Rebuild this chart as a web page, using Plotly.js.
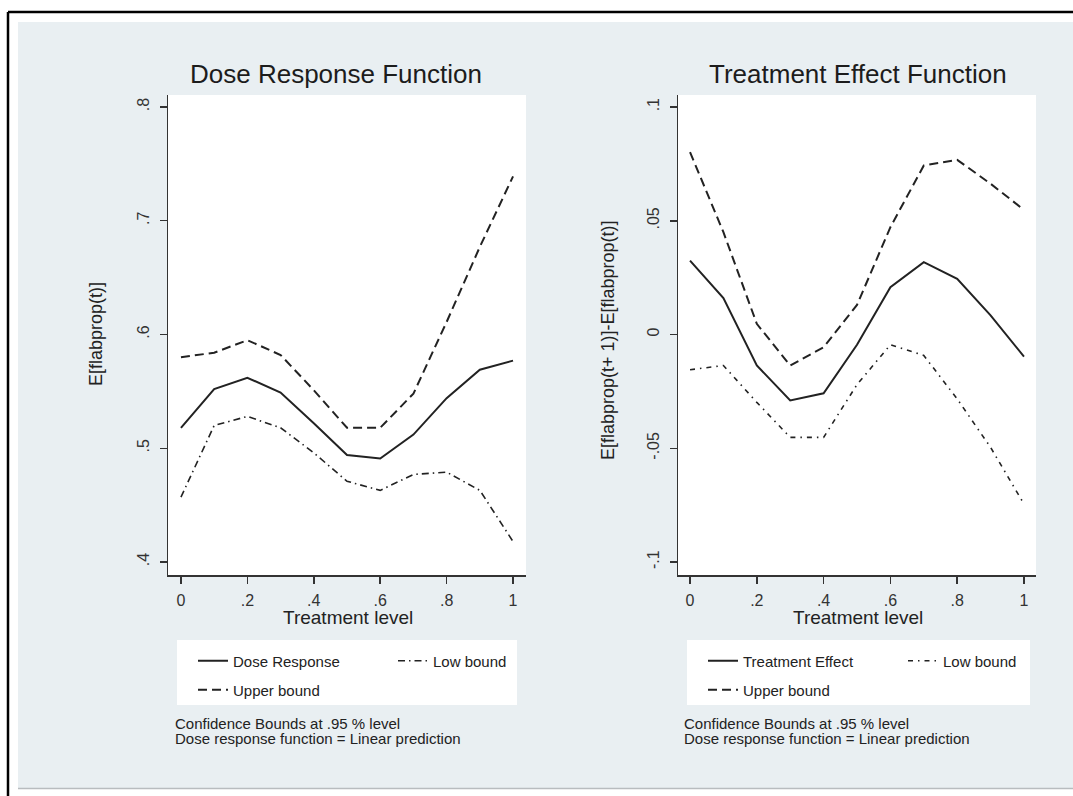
<!DOCTYPE html>
<html>
<head>
<meta charset="utf-8">
<script src="https://cdn.plot.ly/plotly-3.0.1.min.js"></script>
<style>html,body{margin:0;padding:0;background:#fff;}#chart{width:1073px;height:796px;}</style>
</head>
<body>
<div id="chart"></div>
<script>
// ---- data ----
const treatmentLevel = [0, 0.1, 0.2, 0.3, 0.4, 0.5, 0.6, 0.7, 0.8, 0.9, 1.0];

const doseResponse = [0.518, 0.552, 0.562, 0.549, 0.522, 0.494, 0.491, 0.512, 0.544, 0.569, 0.577];
const doseUpper    = [0.580, 0.584, 0.595, 0.582, 0.551, 0.518, 0.518, 0.548, 0.611, 0.677, 0.739];
const doseLow      = [0.457, 0.520, 0.528, 0.518, 0.496, 0.471, 0.463, 0.477, 0.479, 0.463, 0.418];

const treatEffect  = [0.0325, 0.0160, -0.0136, -0.0290, -0.0258, -0.0045, 0.0208, 0.0318, 0.0245, 0.0084, -0.0097];
const treatUpper   = [0.0802, 0.0450, 0.0047, -0.0136, -0.0056, 0.0130, 0.0472, 0.0743, 0.0768, 0.0663, 0.0548];
const treatLow     = [-0.0155, -0.0136, -0.0298, -0.0452, -0.0452, -0.0220, -0.0045, -0.0092, -0.0283, -0.0496, -0.0745];

const xTickVals = [0, 0.2, 0.4, 0.6, 0.8, 1];
const xTickText = ["0", ".2", ".4", ".6", ".8", "1"];
const yLeftTickVals = [0.4, 0.5, 0.6, 0.7, 0.8];
const yLeftTickText = [".4", ".5", ".6", ".7", ".8"];
const yRightTickVals = [-0.1, -0.05, 0, 0.05, 0.1];
const yRightTickText = ["-.1", "-.05", "0", ".05", ".1"];

const leftTitle = "Dose Response Function";
const rightTitle = "Treatment Effect Function";
const xTitle = "Treatment level";
const yLeftTitle = "E[flabprop(t)]";
const yRightTitle = "E[flabprop(t+ 1)]-E[flabprop(t)]";
const noteLine1 = "Confidence Bounds at .95 % level";
const noteLine2 = "Dose response function = Linear prediction";

// ---- layout helpers (pixel -> paper) ----
const W = 1073, H = 796;
const px = v => v / W;
const py = v => 1 - v / H;
const FONT = "Liberation Sans, Arial, sans-serif";
const INK = "#222";

const solid = {color: INK, width: 2};
const dashed = {color: INK, width: 2, dash: "9px,5px"};
const dashdotL = {color: INK, width: 1.6, dash: "7px,4px,1.5px,4px"};
const dashdotR = {color: INK, width: 1.6, dash: "5px,5px,1.5px,5px"};

const traces = [
  {x: treatmentLevel, y: doseResponse, name: "Dose Response", mode: "lines", line: solid, xaxis: "x", yaxis: "y", legend: "legend"},
  {x: treatmentLevel, y: doseLow, name: "Low bound", mode: "lines", line: dashdotL, xaxis: "x", yaxis: "y", legend: "legend2"},
  {x: treatmentLevel, y: doseUpper, name: "Upper bound", mode: "lines", line: dashed, xaxis: "x", yaxis: "y", legend: "legend3"},
  {x: treatmentLevel, y: treatEffect, name: "Treatment Effect", mode: "lines", line: solid, xaxis: "x2", yaxis: "y2", legend: "legend4"},
  {x: treatmentLevel, y: treatLow, name: "Low bound", mode: "lines", line: dashdotR, xaxis: "x2", yaxis: "y2", legend: "legend5"},
  {x: treatmentLevel, y: treatUpper, name: "Upper bound", mode: "lines", line: dashed, xaxis: "x2", yaxis: "y2", legend: "legend6"}
];

const axisCommon = {
  showgrid: false, zeroline: false, showline: true, linecolor: "#333", linewidth: 1.5,
  ticks: "outside", ticklen: 7, tickwidth: 1.5, tickcolor: "#333",
  tickfont: {family: FONT, size: 16, color: "#333"}, fixedrange: true
};

function legendAt(xp, yp) {
  return {x: px(xp), y: py(yp), xanchor: "left", yanchor: "middle", bgcolor: "rgba(0,0,0,0)",
          borderwidth: 0, font: {family: FONT, size: 15, color: INK}};
}

const layout = {
  width: W, height: H,
  margin: {l: 0, r: 0, t: 0, b: 0},
  paper_bgcolor: "#e9eff2",
  plot_bgcolor: "#ffffff",
  font: {family: FONT, color: INK},
  xaxis: Object.assign({}, axisCommon, {domain: [px(168), px(526)], range: [-0.039, 1.039], anchor: "y",
          tickvals: xTickVals, ticktext: xTickText, ticklabelstandoff: 3}),
  yaxis: Object.assign({}, axisCommon, {domain: [py(575), py(95)], range: [0.3886, 0.8105], anchor: "x",
          tickvals: yLeftTickVals, ticktext: yLeftTickText, tickangle: -90, ticklabelstandoff: 4}),
  xaxis2: Object.assign({}, axisCommon, {domain: [px(678), px(1036)], range: [-0.036, 1.036], anchor: "y2",
          tickvals: xTickVals, ticktext: xTickText, ticklabelstandoff: 3}),
  yaxis2: Object.assign({}, axisCommon, {domain: [py(575), py(95)], range: [-0.1057, 0.1053], anchor: "x2",
          tickvals: yRightTickVals, ticktext: yRightTickText, tickangle: -90, ticklabelstandoff: 4}),
  showlegend: true,
  legend: legendAt(193, 661),
  legend2: legendAt(393, 661),
  legend3: legendAt(193, 690),
  legend4: legendAt(703, 661),
  legend5: legendAt(903, 661),
  legend6: legendAt(703, 690),
  shapes: [
    // white frame strips around panel
    {type: "rect", xref: "paper", yref: "paper", x0: 0, x1: 1, y0: py(22), y1: 1, fillcolor: "#ffffff", line: {width: 0}, layer: "below"},
    {type: "rect", xref: "paper", yref: "paper", x0: 0, x1: px(18), y0: 0, y1: 1, fillcolor: "#ffffff", line: {width: 0}, layer: "below"},
    {type: "rect", xref: "paper", yref: "paper", x0: 0, x1: 1, y0: 0, y1: py(789), fillcolor: "#ffffff", line: {width: 0}, layer: "below"},
    {type: "line", xref: "paper", yref: "paper", x0: px(18), x1: 1, y0: py(788.5), y1: py(788.5), line: {color: "#b8bcbf", width: 1.5}, layer: "below"},
    // black outer border
    {type: "line", xref: "paper", yref: "paper", x0: px(8), x1: 1, y0: py(12), y1: py(12), line: {color: "#000", width: 2.5}, layer: "below"},
    {type: "line", xref: "paper", yref: "paper", x0: px(8), x1: px(8), y0: py(12), y1: 0, line: {color: "#000", width: 2.5}, layer: "below"},
    // legend boxes
    {type: "rect", xref: "paper", yref: "paper", x0: px(177), x1: px(517), y0: py(705), y1: py(640), fillcolor: "#ffffff", line: {width: 0}, layer: "below"},
    {type: "rect", xref: "paper", yref: "paper", x0: px(687), x1: px(1030), y0: py(705), y1: py(640), fillcolor: "#ffffff", line: {width: 0}, layer: "below"}
  ],
  annotations: [
    {text: leftTitle, x: px(336), y: py(74), xref: "paper", yref: "paper", xanchor: "center", yanchor: "middle", showarrow: false, font: {family: FONT, size: 26, color: "#1c1c1c"}},
    {text: rightTitle, x: px(858), y: py(74), xref: "paper", yref: "paper", xanchor: "center", yanchor: "middle", showarrow: false, font: {family: FONT, size: 26, color: "#1c1c1c"}},
    {text: xTitle, x: px(348), y: py(617), xref: "paper", yref: "paper", xanchor: "center", yanchor: "middle", showarrow: false, font: {family: FONT, size: 19, color: INK}},
    {text: xTitle, x: px(858), y: py(617), xref: "paper", yref: "paper", xanchor: "center", yanchor: "middle", showarrow: false, font: {family: FONT, size: 19, color: INK}},
    {text: yLeftTitle, x: px(96), y: py(334), xref: "paper", yref: "paper", xanchor: "center", yanchor: "middle", textangle: -90, showarrow: false, font: {family: FONT, size: 18, color: INK}},
    {text: yRightTitle, x: px(608), y: py(340), xref: "paper", yref: "paper", xanchor: "center", yanchor: "middle", textangle: -90, showarrow: false, font: {family: FONT, size: 18, color: INK}},
    {text: noteLine1, x: px(173), y: py(723), xref: "paper", yref: "paper", xanchor: "left", yanchor: "middle", showarrow: false, font: {family: FONT, size: 15, color: INK}},
    {text: noteLine2, x: px(173), y: py(738), xref: "paper", yref: "paper", xanchor: "left", yanchor: "middle", showarrow: false, font: {family: FONT, size: 15, color: INK}},
    {text: noteLine1, x: px(682), y: py(723), xref: "paper", yref: "paper", xanchor: "left", yanchor: "middle", showarrow: false, font: {family: FONT, size: 15, color: INK}},
    {text: noteLine2, x: px(682), y: py(738), xref: "paper", yref: "paper", xanchor: "left", yanchor: "middle", showarrow: false, font: {family: FONT, size: 15, color: INK}}
  ]
};

Plotly.newPlot("chart", traces, layout, {displayModeBar: false, staticPlot: true});
</script>
</body>
</html>
